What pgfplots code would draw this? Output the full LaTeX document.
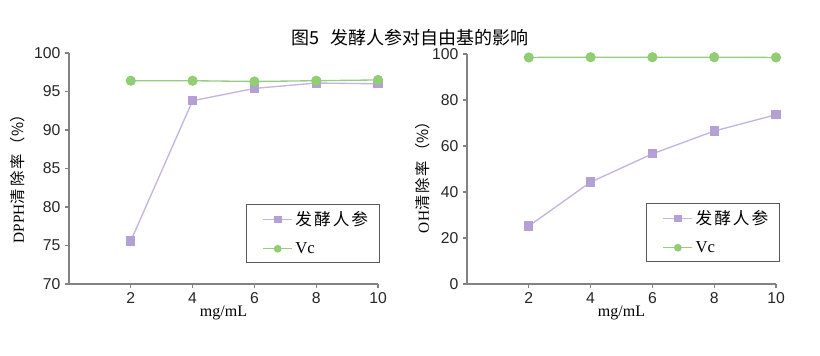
\documentclass[border=0pt]{standalone}
\usepackage{fontspec}
\setmainfont{Liberation Serif}
\newfontfamily\cjk{Noto Sans CJK SC}
\newfontfamily\arial{Liberation Sans}
\usepackage{pgfplots}
\pgfplotsset{compat=1.18}
\definecolor{pur}{RGB}{180,160,212}
\definecolor{purl}{RGB}{196,180,222}
\definecolor{grn}{RGB}{145,205,115}
\definecolor{grnl}{RGB}{150,205,130}
\definecolor{axgray}{RGB}{130,130,130}
\newcommand{\cs}{\hspace{1.5pt}}
\pgfplotsset{
  myaxis/.style={
    scale only axis,
    width=231.75pt,
    axis x line*=bottom, axis y line*=left,
    axis line style={-, axgray, line width=0.8pt},
    tick style={axgray, line width=0.8pt},
    tick align=outside, major tick length=3pt,
    xmin=0, xmax=10, xtick={2,4,6,8,10},
    ticklabel style={font=\arial\fontsize{11.8}{14}\selectfont, text=black!85},
    /pgf/number format/assume math mode=true,
    xlabel={mg/mL},
    xlabel style={font=\fontsize{12}{14}\selectfont, at={(axis description cs:0.5,-0.126)}, anchor=center},
    legend style={draw=black!65, line width=0.6pt, font=\cjk\fontsize{12.5}{14}\selectfont,
      row sep=7pt, inner xsep=4pt, inner ysep=3.5pt, text width=57pt},
    legend cell align=left,
    legend image code/.code={
      \path (-0.3cm,0cm);
      \draw[mark repeat=2,mark phase=2,##1, mark size=2.4pt] plot coordinates {(0cm,0cm) (0.38cm,0cm) (0.76cm,0cm)};
    },
  },
  s1/.style={color=purl, line width=1pt, mark=square*, mark size=3pt, mark options={fill=pur, draw=pur}},
  s2/.style={color=grnl, line width=1pt, mark=*, mark size=3.3pt, mark options={fill=grn, draw=grn}},
}
\begin{document}
\begin{tikzpicture}
\path[draw=none] (0,0) rectangle (615pt,-267pt);
\node[font=\cjk\fontsize{13.5}{15}\selectfont, anchor=center] at (307.5pt,-28.5pt) {图5\hspace{0.6em}发酵人参对自由基的影响};
\begin{axis}[myaxis, at={(51.75pt,-213pt)}, anchor=south west, height=173.25pt,
  ymin=70, ymax=100, ytick={70,75,80,85,90,95,100},
  ylabel={DPPH{\cjk 清\cs 除\cs 率\cs （\%）}},
  ylabel style={font=\fontsize{11.5}{13}\selectfont, at={(axis description cs:-0.165,0.47)}, anchor=center},
  legend style={at={(1.006,0.091)}, anchor=south east}]
\addplot[s1] coordinates {(2,75.6) (4,93.8) (6,95.4) (8,96.1) (10,96.0)};
\addlegendentry{发\cs 酵\cs 人\cs 参}
\addplot[s2] coordinates {(2,96.4) (4,96.4) (6,96.3) (8,96.4) (10,96.5)};
\addlegendentry{\rmfamily Vc}
\end{axis}
\begin{axis}[myaxis, at={(350.25pt,-213pt)}, anchor=south west, height=172.5pt,
  ymin=0, ymax=100, ytick={0,20,40,60,80,100},
  ylabel={OH{\cjk 清\cs 除\cs 率\cs （\%）}},
  ylabel style={font=\fontsize{11.5}{13}\selectfont, at={(axis description cs:-0.142,0.48)}, anchor=center},
  legend style={at={(1.013,0.096)}, anchor=south east}]
\addplot[s1] coordinates {(2,25.2) (4,44.3) (6,56.6) (8,66.5) (10,73.6)};
\addlegendentry{发\cs 酵\cs 人\cs 参}
\addplot[s2] coordinates {(2,98.5) (4,98.6) (6,98.6) (8,98.6) (10,98.5)};
\addlegendentry{\rmfamily Vc}
\end{axis}
\end{tikzpicture}
\end{document}
